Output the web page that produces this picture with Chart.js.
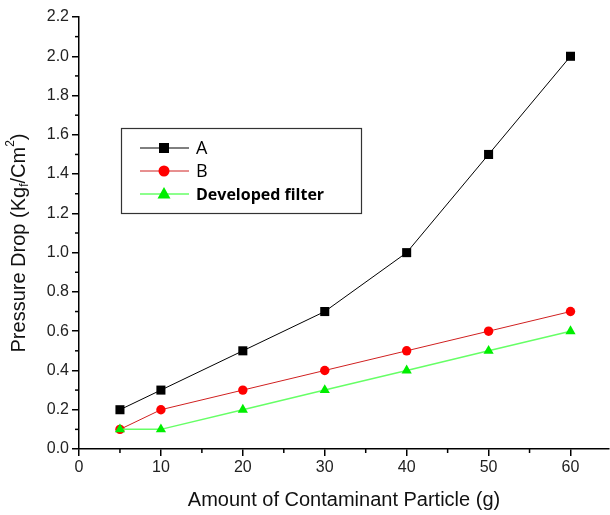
<!DOCTYPE html>
<html><head><meta charset="utf-8">
<script src="https://cdn.jsdelivr.net/npm/chart.js@4/dist/chart.umd.min.js"></script>
<style>html,body{margin:0;padding:0;background:#fff}canvas{display:block}</style>
</head><body>
<canvas id="c" width="610" height="515"></canvas>
<script>
const xValues = [5, 10, 20, 30, 40, 50, 60];
const seriesA = [0.2, 0.3, 0.5, 0.7, 1.0, 1.5, 2.0];
const seriesB = [0.1, 0.2, 0.3, 0.4, 0.5, 0.6, 0.7];
const seriesDev = [0.1, 0.1, 0.2, 0.3, 0.4, 0.5, 0.6];
const seriesNames = ['A', 'B', 'Developed filter'];
const xTickValues = [0, 10, 20, 30, 40, 50, 60];
const yTickValues = [0.0, 0.2, 0.4, 0.6, 0.8, 1.0, 1.2, 1.4, 1.6, 1.8, 2.0, 2.2];
const xTitle = 'Amount of Contaminant Particle (g)';

const pts = (ys) => xValues.map((x, i) => ({x, y: ys[i]}));
const FONT = '"Liberation Sans", Arial, sans-serif';

const styles = [
  {line: '#000000', fill: '#000000', shape: 'rect', r: 6.4, lw: 1},
  {line: '#d02020', fill: '#ff0000', shape: 'circle', r: 4.7, lw: 1},
  {line: '#66ff66', fill: '#00ee00', shape: 'triangle', r: 5.9, lw: 1.5}
];

const extras = {
  id: 'extras',
  afterDraw(chart) {
    const ctx = chart.ctx;
    const xs = chart.scales.x, ys = chart.scales.y;
    ctx.save();
    ctx.strokeStyle = '#000';
    ctx.lineWidth = 1.5;
    // minor ticks
    for (let v = 5; v <= 65; v += 10) {
      const px = xs.getPixelForValue(v);
      if (px > xs.right) continue;
      ctx.beginPath(); ctx.moveTo(px, ys.bottom); ctx.lineTo(px, ys.bottom + 4); ctx.stroke();
    }
    for (let i = 0; i < yTickValues.length - 1; i++) {
      const v = (yTickValues[i] + yTickValues[i + 1]) / 2;
      const py = ys.getPixelForValue(v);
      ctx.beginPath(); ctx.moveTo(xs.left, py); ctx.lineTo(xs.left - 4, py); ctx.stroke();
    }
    // x title
    ctx.fillStyle = '#111';
    ctx.font = '20px ' + FONT;
    ctx.textAlign = 'center';
    ctx.textBaseline = 'middle';
    ctx.fillText(xTitle, 344, 500);
    // y title with sub/superscript
    ctx.save();
    ctx.translate(19, 243);
    ctx.rotate(-Math.PI / 2);
    const parts = [
      {t: 'Pressure Drop (Kg', s: 20, dy: 0},
      {t: 'f', s: 12, dy: 6},
      {t: '/Cm', s: 20, dy: 0},
      {t: '2', s: 12, dy: -8},
      {t: ')', s: 20, dy: 0}
    ];
    let total = 0;
    parts.forEach(p => { ctx.font = p.s + 'px ' + FONT; p.w = ctx.measureText(p.t).width; total += p.w; });
    let cx = -total / 2;
    ctx.textAlign = 'left';
    parts.forEach(p => { ctx.font = p.s + 'px ' + FONT; ctx.fillText(p.t, cx, p.dy); cx += p.w; });
    ctx.restore();
    // legend
    ctx.lineWidth = 1.2;
    ctx.strokeStyle = '#333';
    ctx.strokeRect(121.5, 128.5, 240, 85);
    const rows = [148, 171, 194];
    rows.forEach((ry, i) => {
      const st = styles[i];
      ctx.strokeStyle = st.line; ctx.lineWidth = st.lw;
      ctx.beginPath(); ctx.moveTo(140, ry); ctx.lineTo(189, ry); ctx.stroke();
      ctx.fillStyle = st.fill;
      if (st.shape === 'rect') ctx.fillRect(164 - 5, ry - 5, 10, 10);
      else if (st.shape === 'circle') { ctx.beginPath(); ctx.arc(164, ry, 5.5, 0, Math.PI * 2); ctx.fill(); }
      else { ctx.beginPath(); ctx.moveTo(164, ry - 7); ctx.lineTo(170.5, ry + 4.5); ctx.lineTo(157.5, ry + 4.5); ctx.closePath(); ctx.fill(); }
      ctx.fillStyle = '#000';
      ctx.font = (i === 2 ? 'bold 16px ' : '18px ') + '"Open Sans", "Noto Sans", sans-serif';
      ctx.textAlign = 'left'; ctx.textBaseline = 'middle';
      ctx.fillText(seriesNames[i], 196, ry + 1);
    });
    ctx.restore();
  }
};

const data = {
  datasets: [pts(seriesA), pts(seriesB), pts(seriesDev)].map((d, i) => ({
    label: seriesNames[i],
    data: d,
    borderColor: styles[i].line,
    backgroundColor: styles[i].fill,
    borderWidth: styles[i].lw,
    pointStyle: styles[i].shape,
    pointRadius: styles[i].r,
    pointBorderWidth: 0,
    pointBorderColor: styles[i].fill,
    tension: 0,
    clip: false
  })).reverse()
};

new Chart(document.getElementById('c'), {
  type: 'line',
  data,
  plugins: [extras],
  options: {
    responsive: false,
    animation: false,
    devicePixelRatio: 1,
    layout: {autoPadding: false, padding: {top: 17, right: 1, left: 0, bottom: 0}},
    plugins: {legend: {display: false}, tooltip: {enabled: false}},
    scales: {
      x: {
        type: 'linear', min: 0, max: 64.7,
        afterBuildTicks: (s) => { s.ticks = xTickValues.map(v => ({value: v})); },
        afterFit: (s) => { s.height = 66; s.paddingRight = 0; s.paddingLeft = 0; },
        grid: {drawOnChartArea: false, drawTicks: true, tickLength: 7, color: '#000', lineWidth: 1.5},
        border: {display: true, color: '#000', width: 1.5},
        ticks: {color: '#222', font: {family: FONT, size: 16}, padding: 2, maxRotation: 0,
                callback: (v) => String(v)}
      },
      y: {
        type: 'linear', min: 0, max: 2.2,
        afterBuildTicks: (s) => { s.ticks = yTickValues.map(v => ({value: v})); },
        afterFit: (s) => { s.width = 79; s.paddingTop = 0; s.paddingBottom = 0; },
        grid: {drawOnChartArea: false, drawTicks: true, tickLength: 7, color: '#000', lineWidth: 1.5},
        border: {display: true, color: '#000', width: 1.5},
        ticks: {color: '#222', font: {family: FONT, size: 16}, padding: 3,
                callback: (v) => Number(v).toFixed(1)}
      }
    }
  }
});
</script>
</body></html>
